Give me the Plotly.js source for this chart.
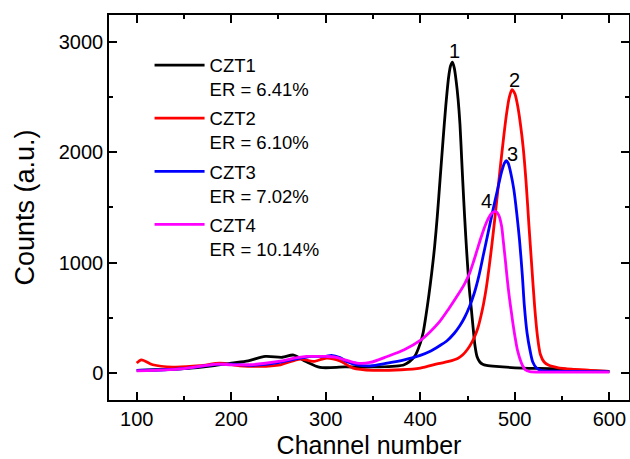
<!DOCTYPE html>
<html>
<head>
<meta charset="utf-8">
<script src="https://cdn.plot.ly/plotly-3.0.1.min.js"></script>
<style>html,body{margin:0;padding:0;background:#fff;}#chart{width:630px;height:459px;}</style>
</head>
<body>
<div id="chart"></div>
<script>
// Series names and energy resolutions
const seriesNames = ["CZT1", "CZT2", "CZT3", "CZT4"];
const energyRes = ["6.41%", "6.10%", "7.02%", "10.14%"];
const seriesColors = ["#000000", "#ff0000", "#0000ff", "#ff00ff"];

// CZT1 (black)
const czt1Ch = [100,120,150,180,200,218,236,254,266,279,294,320,350,383,394,400,403,406,409,412,415,418,421,424,427,430,432,434,436,438,440,442,444,446,448,450,452,454,456,458,460,463,466,470,480,508,543,570,600];
const czt1Counts = [25,30,40,65,90,111,150,143,163,105,51,55,55,75,150,270,365,520,700,900,1130,1420,1760,2100,2420,2680,2780,2815,2760,2640,2480,2250,1900,1560,1250,980,750,580,400,240,150,100,80,70,60,45,39,25,15];

// CZT2 (red)
const czt2Ch = [100,105,117,138,167,188,209,230,252,273,287,301,315,329,350,380,400,419,430,440,445,450,455,458,461,464,467,470,473,476,479,482,485,488,491,494,497,500,503,506,509,512,515,518,521,524,527,531,536,545,560,580,600];
const czt2Counts = [90,120,75,54,66,90,66,60,75,127,105,136,110,45,25,30,45,85,105,135,165,215,285,340,410,510,630,780,970,1180,1410,1650,1890,2120,2330,2490,2565,2530,2420,2250,2030,1720,1330,960,600,330,170,100,70,50,35,25,15];

// CZT3 (blue)
const czt3Ch = [100,130,150,185,200,220,250,270,285,300,306,315,322,333,347,365,383,400,410,420,428,436,442,447,452,457,462,467,472,477,482,486,489,491,493,496,499,502,505,508,510,513,516,519,523,528,540,560,600];
const czt3Counts = [25,30,40,78,80,70,95,130,150,150,160,140,105,75,65,90,120,160,195,245,290,360,430,505,600,720,880,1080,1280,1480,1670,1820,1900,1922,1900,1800,1660,1450,1200,880,620,360,210,100,45,22,18,15,12];

// CZT4 (magenta)
const czt4Ch = [100,130,150,185,200,220,250,270,280,300,310,320,333,347,365,383,400,410,420,430,440,447,452,456,460,464,468,472,476,480,483,486,488,490,492,494,496,498,500,503,507,511,516,530,560,600];
const czt4Counts = [20,28,40,80,75,75,105,140,150,150,145,120,90,96,150,211,295,370,460,580,710,810,900,1000,1110,1220,1320,1400,1450,1462,1430,1330,1180,1020,850,700,573,450,340,200,90,30,12,8,8,8];

// Peak labels
const peakLabels = ["1", "2", "3", "4"];
const peakLabelCh = [436, 499.2, 497.8, 470.3];
const peakLabelCounts = [2919, 2654, 1984, 1559];

const chs = [czt1Ch, czt2Ch, czt3Ch, czt4Ch];
const cnts = [czt1Counts, czt2Counts, czt3Counts, czt4Counts];

const FONT = "Arial, 'Liberation Sans', sans-serif";

const traces = seriesNames.map((n, i) => ({
  x: chs[i], y: cnts[i], type: "scatter", mode: "lines",
  name: n + "<br>ER = " + energyRes[i],
  line: {color: seriesColors[i], width: 2.8, shape: "spline", smoothing: 0.8},
  legendgroup: "g" + i,
  hoverinfo: "x+y"
}));

const annotations = peakLabels.map((t, i) => ({
  x: peakLabelCh[i], y: peakLabelCounts[i], xref: "x", yref: "y",
  text: t, showarrow: false, font: {family: FONT, size: 20, color: "#000"}
}));

const axisCommon = {
  showline: true, linecolor: "#000", linewidth: 1.5, mirror: "allticks",
  ticks: "inside", ticklen: 8, tickwidth: 1.5, tickcolor: "#000",
  showgrid: false, zeroline: false,
  tickfont: {family: FONT, size: 20, color: "#000"}
};

const layout = {
  width: 630, height: 459,
  margin: {l: 109, r: 1, t: 15, b: 59},
  paper_bgcolor: "#fff", plot_bgcolor: "#fff",
  font: {family: FONT, color: "#000"},
  showlegend: true,
  legend: {
    x: 0.078, y: 0.918, xanchor: "left", yanchor: "top",
    bgcolor: "rgba(0,0,0,0)", borderwidth: 0,
    font: {family: FONT, size: 18.5, color: "#000"},
    valign: "top", itemwidth: 50, tracegroupgap: 2
  },
  xaxis: Object.assign({}, axisCommon, {
    range: [70.7, 620.8], dtick: 100, tick0: 0,
    minor: {dtick: 50, ticks: "inside", ticklen: 4, tickwidth: 1.5, tickcolor: "#000"},
    title: {text: "Channel number", font: {family: FONT, size: 25, color: "#000"}, standoff: 8}
  }),
  yaxis: Object.assign({}, axisCommon, {
    range: [-244, 3241], dtick: 1000, tick0: 0,
    minor: {dtick: 500, ticks: "inside", ticklen: 4, tickwidth: 1.5, tickcolor: "#000"},
    title: {text: "Counts (a.u.)", font: {family: FONT, size: 27, color: "#000"}, standoff: 16}
  }),
  annotations: annotations
};

Plotly.newPlot("chart", traces, layout, {displayModeBar: false, responsive: false});
</script>
</body>
</html>
